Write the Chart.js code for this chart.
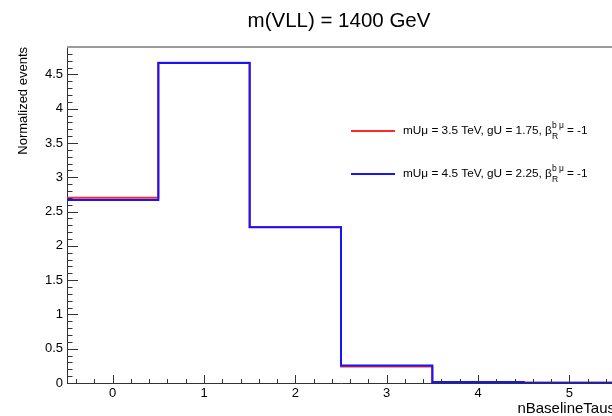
<!DOCTYPE html>
<html>
<head>
<meta charset="utf-8">
<script src="https://cdn.jsdelivr.net/npm/chart.js@4/dist/chart.umd.min.js"></script>
<style>
  html, body { margin: 0; padding: 0; background: #fff; overflow: hidden; }
  #wrap { width: 612px; height: 416px; overflow: hidden; position: relative; }
  canvas { position: absolute; left: 0; top: 0; }
</style>
</head>
<body>
<div id="wrap"><canvas id="c" width="678" height="416"></canvas></div>
<script>
// ---- data ----
const binCenters = [0, 1, 2, 3, 4, 5];
const redValues  = [2.70, 4.67, 2.275, 0.24, 0.013, 0.004];
const blueValues = [2.67, 4.665, 2.27, 0.255, 0.013, 0.004];
const xTickLabels = [0, 1, 2, 3, 4, 5];
const yTickLabels = [0, 0.5, 1, 1.5, 2, 2.5, 3, 3.5, 4, 4.5];
const seriesNames = ["mU\u03bc = 3.5 TeV, gU = 1.75, ", "mU\u03bc = 4.5 TeV, gU = 2.25, "];
const titleText = "m(VLL) = 1400 GeV";
const xTitle = "nBaselineTaus";
const yTitle = "Normalized events";
const xMin = -0.5, xMax = 5.5, yMin = 0, yMax = 4.9;

function stepPoints(vals) {
  const pts = vals.map((v, i) => ({ x: binCenters[i] - 0.5, y: v }));
  pts.push({ x: binCenters[binCenters.length - 1] + 0.5, y: vals[vals.length - 1] });
  return pts;
}

const FONT = "'Liberation Sans', Arial, Helvetica, sans-serif";

const decor = {
  id: 'decor',
  afterDraw(chart) {
    const ctx = chart.ctx;
    const a = chart.chartArea;
    const xs = chart.scales.x, ys = chart.scales.y;
    ctx.save();
    // frame top/right
    ctx.strokeStyle = '#9a9a9a';
    ctx.lineWidth = 2;
    ctx.beginPath();
    ctx.moveTo(a.left, a.top); ctx.lineTo(a.right, a.top); ctx.lineTo(a.right, a.bottom);
    ctx.stroke();
    // ticks
    ctx.strokeStyle = '#333';
    ctx.lineWidth = 1;
    ctx.beginPath();
    for (let k = 1; k < 49; k++) {
      const v = k * 0.1;
      const py = Math.round(ys.getPixelForValue(v)) + 0.5;
      const major = (k % 5 === 0);
      const len = major ? 11 : 5.5;
      ctx.moveTo(a.left, py); ctx.lineTo(a.left + len, py);
    }
    for (let k = -2; k <= 27; k++) {
      const v = k * 0.2;
      if (v <= xMin || v >= xMax) continue;
      const px = Math.round(xs.getPixelForValue(v)) + 0.5;
      const major = (k % 5 === 0);
      const len = major ? 8 : 4;
      ctx.moveTo(px, a.bottom); ctx.lineTo(px, a.bottom - len);
    }
    ctx.stroke();
    // title
    ctx.fillStyle = '#000';
    ctx.font = '20.5px ' + FONT;
    ctx.textAlign = 'center';
    ctx.textBaseline = 'alphabetic';
    ctx.fillText(titleText, 339, 27);
    // axis titles
    ctx.font = '15px ' + FONT;
    ctx.textAlign = 'right';
    ctx.fillText(xTitle, a.right, 413);
    ctx.save();
    ctx.translate(27, a.top);
    ctx.rotate(-Math.PI / 2);
    ctx.font = '13px ' + FONT;
    ctx.textAlign = 'right';
    ctx.fillText(yTitle, 0, 0);
    ctx.restore();
    // legend
    const cols = chart.data.datasets.map(d => d.borderColor);
    const ly = [131, 174];
    for (let i = 0; i < 2; i++) {
      ctx.strokeStyle = cols[i];
      ctx.lineWidth = 2;
      ctx.beginPath();
      ctx.moveTo(351, ly[i]); ctx.lineTo(395, ly[i]);
      ctx.stroke();
      ctx.fillStyle = '#000';
      ctx.textAlign = 'left';
      ctx.textBaseline = 'middle';
      ctx.font = '11.8px ' + FONT;
      let x = 403;
      ctx.fillText(seriesNames[i], x, ly[i]);
      x += ctx.measureText(seriesNames[i]).width;
      ctx.fillText('\u03b2', x, ly[i]);
      const bw = ctx.measureText('\u03b2').width;
      x += bw;
      ctx.font = '8.5px ' + FONT;
      ctx.fillText('b \u03bc', x, ly[i] - 5);
      ctx.fillText('R', x, ly[i] + 6);
      x += ctx.measureText('b \u03bc').width + 3;
      ctx.font = '11.8px ' + FONT;
      ctx.fillText('= -1', x, ly[i]);
    }
    ctx.restore();
  }
};

new Chart(document.getElementById('c'), {
  type: 'line',
  data: {
    datasets: [
      { label: seriesNames[0], data: stepPoints(redValues), borderColor: 'rgb(255,40,40)', borderWidth: 2, stepped: true, pointRadius: 0, fill: false, order: 1 },
      { label: seriesNames[1], data: stepPoints(blueValues), borderColor: 'rgb(20,20,255)', borderWidth: 2, stepped: true, pointRadius: 0, fill: false, order: 0 }
    ]
  },
  options: {
    responsive: false,
    animation: false,
    devicePixelRatio: 1,
    layout: { padding: { left: 0, right: 63, top: 47, bottom: 0 } },
    plugins: { legend: { display: false }, title: { display: false }, tooltip: { enabled: false } },
    scales: {
      x: {
        type: 'linear', min: xMin, max: xMax,
        afterFit(s) { s.height = 33; },
        afterBuildTicks(s) { s.ticks = xTickLabels.map(v => ({ value: v })); },
        grid: { display: false, drawTicks: false },
        border: { display: true, color: '#333', width: 1 },
        ticks: { padding: 3, font: { family: FONT, size: 13 }, color: '#000', maxRotation: 0, callback: v => String(v) }
      },
      y: {
        type: 'linear', min: yMin, max: yMax,
        afterFit(s) { s.width = 67; },
        afterBuildTicks(s) { s.ticks = yTickLabels.map(v => ({ value: v })); },
        grid: { display: false, drawTicks: false },
        border: { display: true, color: '#333', width: 1 },
        ticks: { padding: 4, font: { family: FONT, size: 13 }, color: '#000', callback: v => String(v) }
      }
    }
  },
  plugins: [decor]
});
</script>
</body>
</html>
